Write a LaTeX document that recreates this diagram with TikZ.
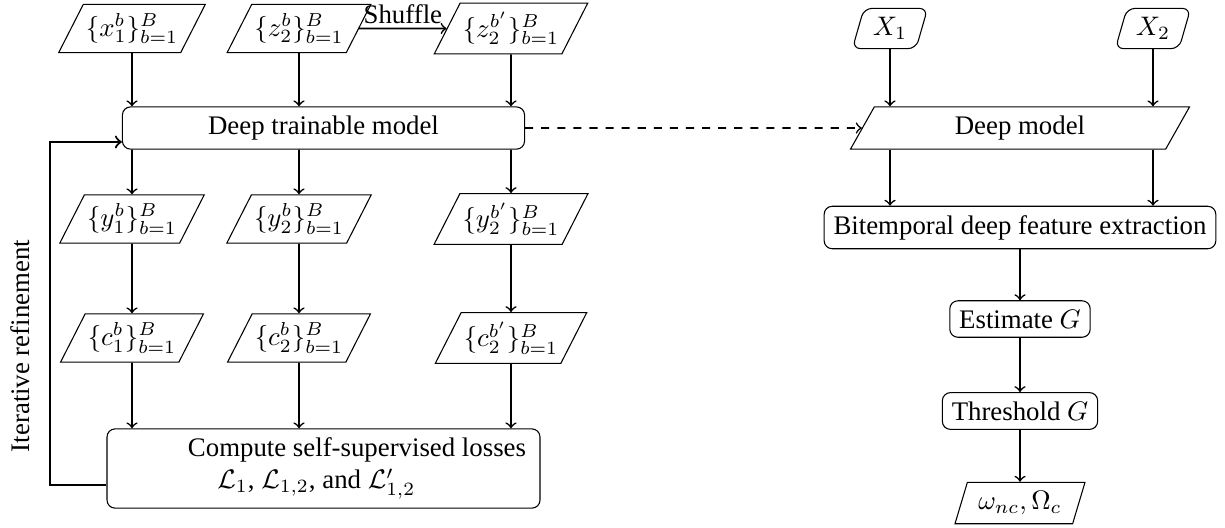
\documentclass[tikz,border=0pt]{standalone}
\usepackage{amsmath}
\usepackage{amssymb}
\usepackage{fontspec}
\setmainfont{Liberation Serif}
\usetikzlibrary{shapes.geometric}

\begin{document}
\begin{tikzpicture}[x=0.373pt,y=-0.373pt,
	para/.style={draw,trapezium,trapezium left angle=63,trapezium right angle=117,trapezium stretches=true,minimum width=53pt,minimum height=17.5pt,inner xsep=1pt},
	slim/.style={draw,trapezium,trapezium left angle=74,trapezium right angle=106,trapezium stretches=true,minimum height=15pt},
	rbox/.style={draw,rounded corners=3pt,inner xsep=3.5pt,minimum height=13.5pt},
	flow/.style={->,semithick}]
	\useasboundingbox (0,0) rectangle (1225,527);
	% left branch
	\node[para] (x1) at (132,28.5) {$\{x_1^b\}_{b=1}^B$};
	\node[para] (z2) at (299,28.5) {$\{z_2^b\}_{b=1}^B$};
	\node[para] (z2s) at (511,28.5) {$\{z_2^{b'}\}_{b=1}^B$};
	\node[rbox,minimum width=150pt,minimum height=15pt] (dtm) at (323.5,128) {Deep trainable model};
	\node[para] (y1) at (132,219) {$\{y_1^b\}_{b=1}^B$};
	\node[para] (y2) at (299,219) {$\{y_2^b\}_{b=1}^B$};
	\node[para] (y2s) at (511,219) {$\{y_2^{b'}\}_{b=1}^B$};
	\node[para] (c1) at (132,338) {$\{c_1^b\}_{b=1}^B$};
	\node[para] (c2) at (299,338) {$\{c_2^b\}_{b=1}^B$};
	\node[para] (c2s) at (511,338) {$\{c_2^{b'}\}_{b=1}^B$};
	\node[rbox,minimum width=161.5pt,minimum height=28.7pt,align=left] (loss) at (323.5,468.5)
		{\hspace*{25pt}Compute self-supervised losses\\\hspace*{36pt}$\mathcal{L}_1$, $\mathcal{L}_{1,2}$, and $\mathcal{L}'_{1,2}$};
	\node[rotate=90] (iter) at (20,346) {Iterative refinement};
	\foreach \a/\b in {x1/y1,z2/y2,z2s/y2s}
	{ \draw[flow] (\a) -- (\a |- dtm.north);
	  \draw[flow] (\b |- dtm.south) -- (\b);
	}
	\foreach \a/\b in {y1/c1,y2/c2,y2s/c2s}
	{ \draw[flow] (\a) -- (\b);
	  \draw[flow] (\b) -- (\b |- loss.north);
	}
	\draw[flow] (z2) -- node[above=-2pt] {Shuffle} (z2s);
	\draw[->,thick] ([yshift=-6pt]loss.west) -| (50,300) |- ([yshift=-5.2pt]dtm.west);
	% right branch
	\node[slim,rounded corners=3pt,minimum width=27.6pt,minimum height=14.5pt] (X1) at (890,28.5) {$X_1$};
	\node[slim,rounded corners=3pt,minimum width=27.6pt,minimum height=14.5pt] (X2) at (1153,28.5) {$X_2$};
	\node[slim,minimum width=127pt] (dm) at (1020,128) {Deep model};
	\node[rbox,minimum height=15.3pt] (feat) at (1020,227.5) {Bitemporal deep feature extraction};
	\node[rbox] (est) at (1020,319) {Estimate $G$};
	\node[rbox] (thr) at (1020,411) {Threshold $G$};
	\node[slim,minimum width=48.5pt] (out) at (1020,503) {$\omega_{nc},\Omega_c$};
	\draw[->,semithick,dashed] (dtm) -- (dm);
	\foreach \a in {X1,X2}
	{ \draw[flow] (\a) -- (\a |- dm.north);
	  \draw[flow] (\a |- dm.south) -- (\a |- feat.north);
	}
	\draw[flow] (feat) -- (est);
	\draw[flow] (est) -- (thr);
	\draw[flow] (thr) -- (out);
\end{tikzpicture}
\end{document}
